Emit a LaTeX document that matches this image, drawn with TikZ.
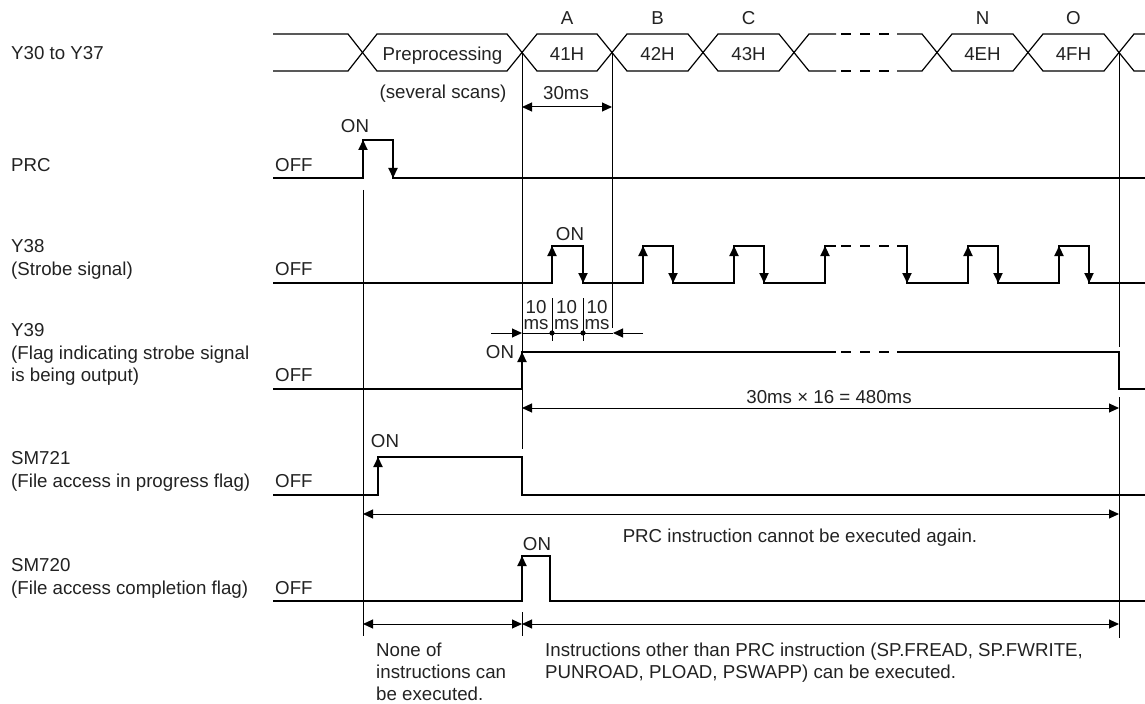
\documentclass[tikz,border=0pt]{standalone}
\usepackage{fontspec}
\setmainfont{Liberation Sans}
\usetikzlibrary{arrows.meta}
\definecolor{ink}{HTML}{222222}
\definecolor{wire}{HTML}{000000}
\tikzset{
  % ---- texts -----------------------------------------------------
  lbl/.style     = {anchor=base west, inner sep=0pt, text=ink, align=left,
                    font={\fontsize{18.7bp}{22.5bp}\selectfont}},
  ctxt/.style    = {anchor=base, inner sep=0pt, text=ink,
                    font={\fontsize{18.7bp}{22.5bp}\selectfont}},
  mstxt/.style   = {ctxt, align=center, font={\fontsize{18.7bp}{16bp}\selectfont}},
  % ---- wave forms ------------------------------------------------
  busln/.style   = {draw=wire, line width=1.2bp},
  sig/.style     = {draw=wire, line width=2.2bp},
  edgetip/.style = {sig, -{Triangle[length=10bp,width=9bp]}},
  gapdash/.style = {dash pattern=on 10bp off 9bp, dash phase=14bp},
  % ---- guides and dimensions -------------------------------------
  guide/.style   = {draw=wire, line width=0.9bp},
  dimarr/.style  = {draw=wire, line width=1bp, -{Triangle[length=10bp,width=9bp]}},
  dimboth/.style = {dimarr, {Triangle[length=10bp,width=9bp]}-{Triangle[length=10bp,width=9bp]}},
}

\begin{document}
\begin{tikzpicture}[x=1bp, y=-1bp]
\useasboundingbox (0,0) rectangle (1145,704);
% signal names (base = last line)
\node[lbl] (nBus)   at (11,60)    {Y30 to Y37};
\node[lbl] (nPRC)   at (11,171.5) {PRC};
\node[lbl] (nY38)   at (11,275)   {Y38\\(Strobe signal)};
\node[lbl] (nY39)   at (11,381.5) {Y39\\(Flag indicating strobe signal\\is being output)};
\node[lbl] (nSM721) at (11,487)   {SM721\\(File access in progress flag)};
\node[lbl] (nSM720) at (11,594)   {SM720\\(File access completion flag)};
\node[lbl] (offPRC)   at (275,171.5) {OFF};
\node[lbl] (offY38)   at (275,275)   {OFF};
\node[lbl] (offY39)   at (275,381.5) {OFF};
\node[lbl] (offSM721) at (275,487)   {OFF};
\node[lbl] (offSM720) at (275,594)   {OFF};
% bus Y30 to Y37
\draw[busln] (273,34) -- (348,34) -- (377,71) -- (507,71) -- (537,34) -- (597,34) -- (627,71) -- (688,71) -- (718,34) -- (779,34) -- (809,71) -- (836,71);
\draw[busln, gapdash] (836,71) -- (897,71);
\draw[busln] (897,71) -- (922,71) -- (952,34) -- (1013,34) -- (1043,71) -- (1104,71) -- (1134,34) -- (1145,34);
\draw[busln] (273,71) -- (348,71) -- (377,34) -- (507,34) -- (537,71) -- (597,71) -- (627,34) -- (688,34) -- (718,71) -- (779,71) -- (809,34) -- (836,34);
\draw[busln, gapdash] (836,34) -- (897,34);
\draw[busln] (897,34) -- (922,34) -- (952,71) -- (1013,71) -- (1043,34) -- (1104,34) -- (1134,71) -- (1145,71);
\node[ctxt] (dPre) at (442.5,61)  {Preprocessing};
\node[ctxt] (d41)  at (567,61)    {41H};
\node[ctxt] (d42)  at (657.5,61)  {42H};
\node[ctxt] (d43)  at (748.5,61)  {43H};
\node[ctxt] (d4E)  at (982.5,61)  {4EH};
\node[ctxt] (d4F)  at (1073.5,61) {4FH};
\node[ctxt] (cA) at (567,25)    {A};
\node[ctxt] (cB) at (657.5,25)  {B};
\node[ctxt] (cC) at (748.5,25)  {C};
\node[ctxt] (cN) at (982.5,25)  {N};
\node[ctxt] (cO) at (1073.5,25) {O};
\node[ctxt] (scans) at (443,99) {(several scans)};
\node[ctxt] (t30)   at (566,100) {30ms};
\draw[dimboth] (522,107) -- (612,107);
% guide lines
\draw[guide] (363,190) -- (363,636);
\draw[guide] (522,53) -- (522,449);
\draw[guide] (522,612) -- (522,636);
\draw[guide] (612,53) -- (612,328);
\draw[guide] (1119,53) -- (1119,347);
\draw[guide] (1119,397) -- (1119,638);
% PRC
\draw[sig] (273,178) -- (363,178) -- (363,140) -- (393,140) -- (393,178) -- (1145,178);
\draw[edgetip] (363,162) -- (363,140);
\draw[edgetip] (393,156) -- (393,178);
\node[ctxt] (onPRC) at (355,133) {ON};
% Y38
\draw[sig] (273,283) -- (552,283) -- (552,246) -- (583,246) -- (583,283) -- (643,283) -- (643,246) -- (673,246) -- (673,283) -- (734,283) -- (734,246) -- (764,246) -- (764,283) -- (825,283) -- (825,246) -- (836,246);
\draw[sig, gapdash] (836,246) -- (897,246);
\draw[sig] (897,246) -- (907,246) -- (907,283) -- (968,283) -- (968,246) -- (998,246) -- (998,283) -- (1059,283) -- (1059,246) -- (1089,246) -- (1089,283) -- (1145,283);
\draw[edgetip] (552,266) -- (552,246);
\draw[edgetip] (643,266) -- (643,246);
\draw[edgetip] (734,266) -- (734,246);
\draw[edgetip] (825,266) -- (825,246);
\draw[edgetip] (968,266) -- (968,246);
\draw[edgetip] (1059,266) -- (1059,246);
\draw[edgetip] (583,263) -- (583,283);
\draw[edgetip] (673,263) -- (673,283);
\draw[edgetip] (764,263) -- (764,283);
\draw[edgetip] (907,263) -- (907,283);
\draw[edgetip] (998,263) -- (998,283);
\draw[edgetip] (1089,263) -- (1089,283);
\node[ctxt] (onY38) at (570,240) {ON};
% 10 ms steps
\draw[guide] (552,298) -- (552,341);
\draw[guide] (583,298) -- (583,341);
\node[mstxt] (ms1) at (536,329)   {10\\ms};
\node[mstxt] (ms2) at (566.5,329) {10\\ms};
\node[mstxt] (ms3) at (597,329)   {10\\ms};
\draw[dimarr] (491,333) -- (522,333);
\draw[dimarr] (643,333) -- (613,333);
\draw[guide] (522,333) -- (613,333);
\fill[wire] (552,333) circle[radius=2.6bp];
\fill[wire] (583,333) circle[radius=2.6bp];
% Y39
\draw[sig] (273,389) -- (522,389) -- (522,352) -- (836,352);
\draw[sig, gapdash] (836,352) -- (897,352);
\draw[sig] (897,352) -- (1119,352) -- (1119,389) -- (1145,389);
\draw[edgetip] (522,372) -- (522,352);
\node[ctxt] (onY39) at (500,358) {ON};
\node[ctxt] (t480) at (829,403) {30ms × 16 = 480ms};
\draw[dimboth] (522,408) -- (1119,408);
% SM721
\draw[sig] (273,495) -- (378,495) -- (378,457) -- (522,457) -- (522,495) -- (1145,495);
\draw[edgetip] (378,477) -- (378,457);
\node[ctxt] (onSM721) at (385,447) {ON};
\draw[dimboth] (363,514) -- (1119,514);
\node[ctxt] (again) at (800,542) {PRC instruction cannot be executed again.};
% SM720
\draw[sig] (273,601) -- (522,601) -- (522,556) -- (550,556) -- (550,601) -- (1145,601);
\draw[edgetip] (522,578) -- (522,556);
\node[ctxt] (onSM720) at (537,550) {ON};
\draw[dimboth] (363,624) -- (522,624);
\draw[dimboth] (522,624) -- (1119,624);
\node[lbl, font={\fontsize{18.7bp}{22bp}\selectfont}] (none) at (376,700) {None of\\instructions can\\be executed.};
\node[lbl] (other) at (545,678.5) {Instructions other than PRC instruction (SP.FREAD, SP.FWRITE,\\PUNROAD, PLOAD, PSWAPP) can be executed.};
\end{tikzpicture}
\end{document}
